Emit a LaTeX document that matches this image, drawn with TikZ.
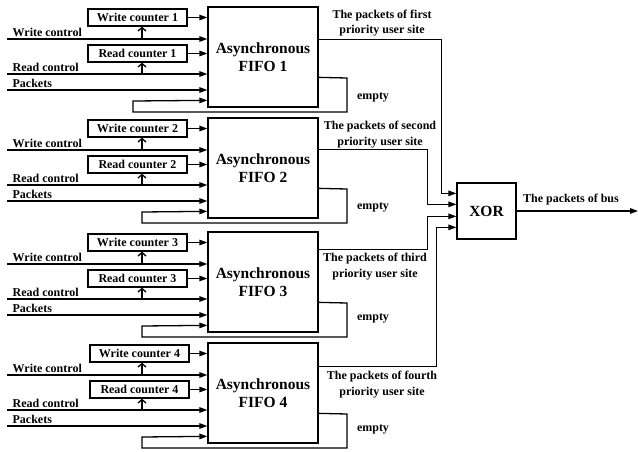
\documentclass[tikz,border=0pt]{standalone}
\usepackage{fontspec}
\setmainfont{Liberation Serif}
\usetikzlibrary{arrows.meta,calc}
\begin{document}
\begin{tikzpicture}[x=1pt,y=-1pt, line width=1.3pt,
  font=\bfseries\fontsize{12}{15.5}\selectfont,
  fifo/.style={draw, minimum width=110pt, minimum height=100pt, inner sep=0pt, align=center,
    font=\bfseries\fontsize{15.5}{18}\selectfont},
  xorbox/.style={draw, minimum width=59pt, minimum height=56pt, inner sep=0pt,
    font=\bfseries\fontsize{15.5}{18}\selectfont},
  ctr/.style={draw, minimum width=99pt, minimum height=17pt, inner sep=0pt},
  tri/.style={-{Triangle[length=8pt,width=5.5pt]}},
  barb/.style={-{Straight Barb[length=3.5pt,width=8pt]}},
  lbl/.style={inner sep=0pt, align=center}]
\useasboundingbox (0,0) rectangle (638,451);

\foreach \i/\T/\cx/\lx in {1/7/137.5/133, 2/118/137.5/142, 3/232/137.5/142, 4/343/139.5/142}{
  \node[fifo] (f\i) at (263,\T+50) {Asynchronous\\FIFO \i};
  \node[ctr] (wc\i) at (\cx,\T+10.5) {Write counter \i};
  \node[ctr] (rc\i) at (\cx,\T+46.5) {Read counter \i};
  \draw[tri] (wc\i.east) -- (wc\i.east -| f\i.west);
  \draw[tri] (rc\i.east) -- (rc\i.east -| f\i.west);
  % write control
  \coordinate (wi\i) at (7,\T+32);
  \coordinate (wu\i) at (142,\T+32);
  \draw[tri] (wi\i) -- (wi\i -| f\i.west);
  \draw[barb] (wu\i) -- (wu\i |- wc\i.south);
  \node[lbl, anchor=base west] (wl\i) at (12,\T+29) {Write control};
  % read control
  \coordinate (ri\i) at (7,\T+67);
  \coordinate (ru\i) at (142,\T+67);
  \draw[tri] (ri\i) -- (ri\i -| f\i.west);
  \draw[barb] (ru\i) -- (ru\i |- rc\i.south);
  \node[lbl, anchor=base west] (rl\i) at (12,\T+64) {Read control};
  % packets
  \coordinate (pi\i) at (7,\T+83);
  \draw[tri] (pi\i) -- (pi\i -| f\i.west);
  \node[lbl, anchor=base west] (pl\i) at (12,\T+80) {Packets};
  % empty feedback
  \draw[tri] ($(f\i.north east)+(0,71)$) -- (347,\T+71) -- (347,\T+105) -- (\lx,\T+105)
     -- (\lx,\T+94) -- ($(f\i.north west)+(0,94)$);
}

\node[lbl] (e1) at (373,97) {empty};
\node[lbl] (e2) at (373,207) {empty};
\node[lbl] (e3) at (373,318) {empty};
\node[lbl] (e4) at (373,429) {empty};

\node[xorbox] (xor) at (486.5,211) {XOR};

\draw[tri] ($(f1.north east)+(0,33)$) -| ($(xor.north west)+(-15,11)$) -- ($(xor.north west)+(0,11)$);
\draw[tri] ($(f2.north east)+(0,32)$) -| ($(xor.north west)+(-29,22)$) -- ($(xor.north west)+(0,22)$);
\draw[tri] ($(f3.north east)+(0,18)$) -| ($(xor.north west)+(-29,34)$) -- ($(xor.north west)+(0,34)$);
\draw[tri] ($(f4.north east)+(0,24)$) -| ($(xor.north west)+(-20,45)$) -- ($(xor.north west)+(0,45)$);

\node[lbl] (o1) at (382,23) {The packets of first\\priority user site};
\node[lbl] (o2) at (380,134.5) {The packets of second\\priority user site};
\node[lbl] (o3) at (375,266.5) {The packets of third\\priority user site};
\node[lbl] (o4) at (382,384.5) {The packets of fourth\\priority user site};

\coordinate (bus) at (638,211);
\draw[tri] (xor.east) -- (bus);
\node[lbl] (bl) at (571,200) {The packets of bus};
\end{tikzpicture}
\end{document}
